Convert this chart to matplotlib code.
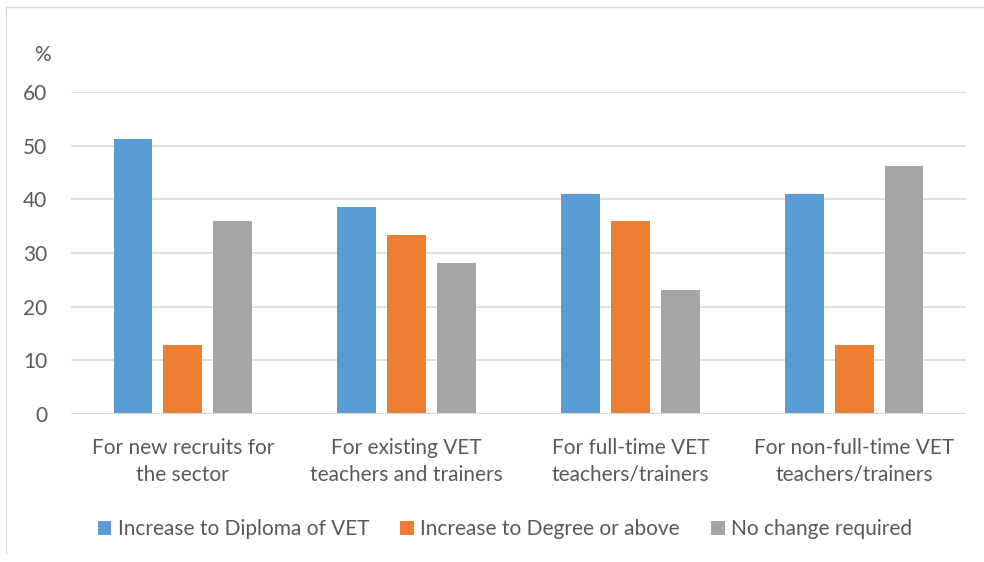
import numpy as np
import matplotlib.pyplot as plt
from matplotlib.lines import Line2D

categories = ["For new recruits for\nthe sector",
              "For existing VET\nteachers and trainers",
              "For full-time VET\nteachers/trainers",
              "For non-full-time VET\nteachers/trainers"]
series_names = ["Increase to Diploma of VET", "Increase to Degree or above", "No change required"]
diploma = [51.3, 38.5, 41.0, 41.0]
degree = [12.8, 33.3, 35.9, 12.8]
no_change = [35.9, 28.2, 23.1, 46.2]
yticks = [0, 10, 20, 30, 40, 50, 60]

colors = ["#5B9BD5", "#ED7D31", "#A5A5A5"]
txt = "#595959"
plt.rcParams['font.family'] = ['Lato', 'DejaVu Sans']
fs = 15

fig = plt.figure(figsize=(9.84, 5.62), dpi=100)
ax = fig.add_axes([71/984, 1 - 414/562, 895/984, 322/562])

x = np.arange(len(categories))
w = 0.174
step = 0.223
for i, vals in enumerate([diploma, degree, no_change]):
    ax.bar(x + (i - 1) * step, vals, w, color=colors[i], label=series_names[i], zorder=3)

ax.set_xlim(-0.5, len(categories) - 0.5)
ax.set_ylim(0, 60)
ax.set_yticks(yticks)
ax.yaxis.grid(True, color="#D9D9D9", linewidth=1.2, zorder=0)
for s in ax.spines.values():
    s.set_visible(False)
ax.axhline(0, color="#D9D9D9", linewidth=1.5, zorder=4)
ax.tick_params(axis='y', length=0, pad=17, labelsize=fs, labelcolor=txt)
ax.tick_params(axis='x', length=0, pad=17, labelsize=fs, labelcolor=txt)
ax.set_xticks(x)
ax.set_xticklabels(categories, linespacing=1.45)
fig.text(42/984, 1 - 55/562, "%", fontsize=fs, color=txt, ha='center', va='center')

fig.legend(loc='center', bbox_to_anchor=(505/984, 1 - 529/562), ncol=3, frameon=False,
           fontsize=fs, labelcolor=txt, handlelength=0.65, handleheight=0.65,
           handletextpad=0.3, columnspacing=1.5)

# light chart border (top and left visible)
fig.add_artist(Line2D([6/984, 1], [1 - 7/562, 1 - 7/562], color="#D9D9D9", linewidth=1))
fig.add_artist(Line2D([6/984, 6/984], [1 - 7/562, 1 - 553/562], color="#D9D9D9", linewidth=1))

fig.savefig("out.png", dpi=100)
